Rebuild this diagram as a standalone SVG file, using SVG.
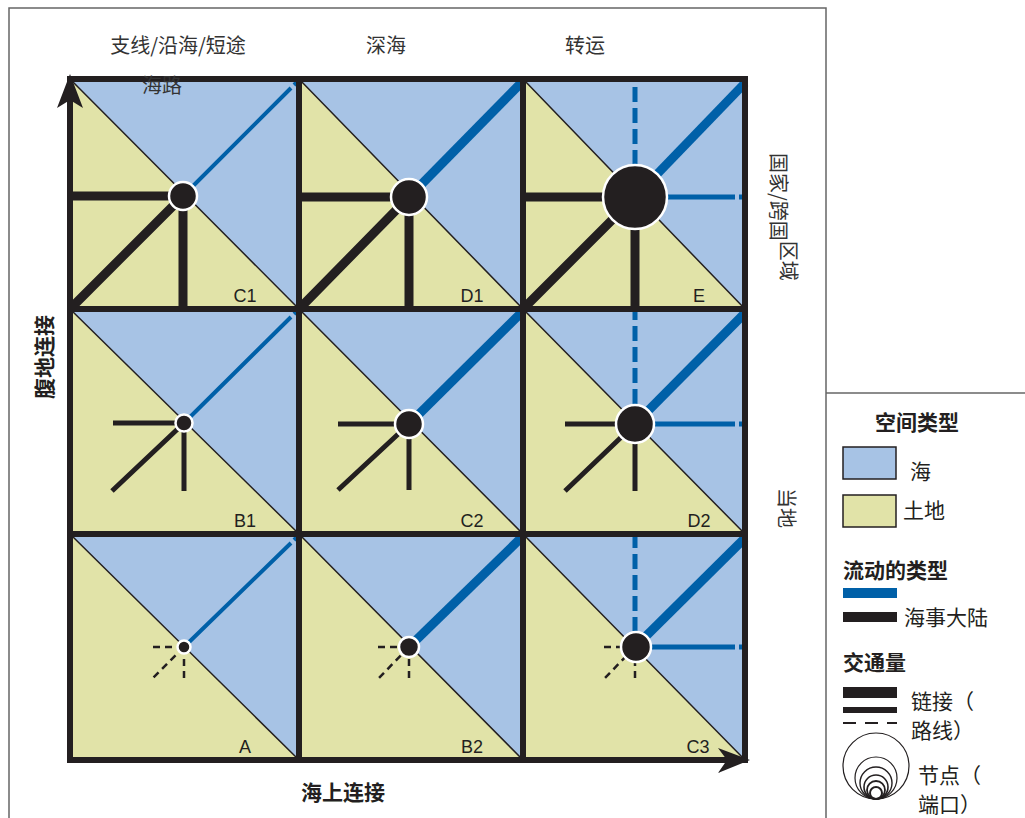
<svg xmlns="http://www.w3.org/2000/svg" width="1025" height="818" viewBox="0 0 1025 818">
<style>
.sea{fill:#a7c3e5}
.land{fill:#e1e3a8}
.diag{stroke:#231f20;stroke-width:1.5;fill:none}
.grid{stroke:#231f20;stroke-width:6;fill:none;stroke-linecap:square}
.bk9{stroke:#231f20;stroke-width:9;fill:none}
.bk5{stroke:#231f20;stroke-width:5;fill:none}
.bkd{stroke:#231f20;stroke-width:2.5;fill:none;stroke-dasharray:7,5}
.bl4{stroke:#0060a8;stroke-width:4;fill:none}
.bl9{stroke:#0060a8;stroke-width:9;fill:none}
.bl5{stroke:#0060a8;stroke-width:5;fill:none}
.bld{stroke:#0060a8;stroke-width:5;fill:none;stroke-dasharray:15,6}
.node{fill:#231f20;stroke:#fff;stroke-width:2.5}
.lbl{font-family:"Liberation Sans",Arial,sans-serif;font-size:18px;fill:#231f20}
.t{font-family:"Noto Sans CJK SC","Noto Sans",sans-serif;font-size:20px;fill:#333}
.tl{font-family:"Noto Sans CJK SC","Noto Sans",sans-serif;font-size:21px;fill:#231f20}
.tb{font-family:"Noto Sans CJK SC","Noto Sans",sans-serif;font-size:21px;font-weight:bold;fill:#231f20}
.frame{stroke:#666;stroke-width:1.5;fill:none}
</style>
<rect width="1025" height="818" fill="#fff"/>
<g id="frame">
<path class="frame" d="M826,818 V8 H9 V818"/>
<path class="frame" d="M826,393 H1025"/>
</g>
<g id="cells">
<polygon class="sea" points="70,79 299,79 299,309"/><polygon class="land" points="70,79 70,309 299,309"/>
<polygon class="sea" points="299,79 523,79 523,309"/><polygon class="land" points="299,79 299,309 523,309"/>
<polygon class="sea" points="523,79 745,79 745,309"/><polygon class="land" points="523,79 523,309 745,309"/>
<polygon class="sea" points="70,309 299,309 299,534"/><polygon class="land" points="70,309 70,534 299,534"/>
<polygon class="sea" points="299,309 523,309 523,534"/><polygon class="land" points="299,309 299,534 523,534"/>
<polygon class="sea" points="523,309 745,309 745,534"/><polygon class="land" points="523,309 523,534 745,534"/>
<polygon class="sea" points="70,534 299,534 299,760"/><polygon class="land" points="70,534 70,760 299,760"/>
<polygon class="sea" points="299,534 523,534 523,760"/><polygon class="land" points="299,534 299,760 523,760"/>
<polygon class="sea" points="523,534 745,534 745,760"/><polygon class="land" points="523,534 523,760 745,760"/>
<path class="diag" d="M70,79 L299,309 M299,79 L523,309 M523,79 L745,309 M70,309 L299,534 M299,309 L523,534 M523,309 L745,534 M70,534 L299,760 M299,534 L523,760 M523,534 L745,760"/>
</g>
<g id="connectors">
<path class="bk9" d="M70,196 H183 M183,196 V309 M183,196 L72,307"/>
<path class="bl4" d="M183,196 L291,88 M294,85 L298,81"/>
<path class="bk9" d="M299,197 H409 M409,197 V309 M409,197 L301,307"/>
<path class="bl9" d="M409,197 L523,81"/>
<path class="bk9" d="M523,197 H635 M635,197 V309 M635,197 L525,307"/>
<path class="bl9" d="M635,197 L745,83"/>
<path class="bld" d="M635,165 V82"/>
<path class="bl5" d="M667,197 H735 M739,197 H745"/>
<path class="bk5" d="M113,423 H184 M184,423 V491 M184,423 L112,491"/>
<path class="bl4" d="M184,423 L291,317 M294,314 L298,310"/>
<path class="bk5" d="M338,424 H409 M409,424 V490 M409,424 L338,490"/>
<path class="bl9" d="M409,424 L523,311"/>
<path class="bk5" d="M565,424 H635 M635,424 V491 M635,424 L565,491"/>
<path class="bl9" d="M635,424 L745,313"/>
<path class="bld" d="M635,404 V310"/>
<path class="bl5" d="M655,424 H735 M739,424 H745"/>
<path class="bkd" d="M184,647 H152 M184,647 V679 M184,647 L152,679"/>
<path class="bl4" d="M184,647 L291,543 M294,540 L298,536"/>
<path class="bkd" d="M409,647 H378 M409,647 V679 M409,647 L378,679"/>
<path class="bl9" d="M409,647 L523,536"/>
<path class="bkd" d="M635,647 H604 M635,647 V679 M635,647 L604,679"/>
<path class="bl9" d="M635,647 L745,538"/>
<path class="bld" d="M635,632 V535"/>
<path class="bl5" d="M651,647 H735 M739,647 H745"/>
</g>
<g id="grid">
<rect class="grid" x="70" y="79" width="675" height="681"/>
<path class="grid" d="M299,79 V760 M523,79 V760 M70,309 H745 M70,534 H745"/>
<polygon fill="#231f20" points="70,74 83,108 70,100 57,108"/>
<polygon fill="#231f20" points="750,760 718,773 727,760 718,748"/>
</g>
<g id="nodes">
<g id="node-C1"><circle class="node" cx="183" cy="196" r="14"/><text class="lbl" x="245" y="302" text-anchor="middle">C1</text></g>
<g id="node-D1"><circle class="node" cx="409" cy="197" r="18"/><text class="lbl" x="472" y="302" text-anchor="middle">D1</text></g>
<g id="node-E"><circle class="node" cx="635" cy="197" r="32"/><text class="lbl" x="699" y="302" text-anchor="middle">E</text></g>
<g id="node-B1"><circle class="node" cx="184" cy="423" r="8.5"/><text class="lbl" x="245" y="527" text-anchor="middle">B1</text></g>
<g id="node-C2"><circle class="node" cx="409" cy="424" r="14"/><text class="lbl" x="472" y="527" text-anchor="middle">C2</text></g>
<g id="node-D2"><circle class="node" cx="635" cy="424" r="19"/><text class="lbl" x="699" y="527" text-anchor="middle">D2</text></g>
<g id="node-A"><circle class="node" cx="184" cy="647" r="6.5"/><text class="lbl" x="245" y="753" text-anchor="middle">A</text></g>
<g id="node-B2"><circle class="node" cx="409" cy="647" r="10"/><text class="lbl" x="472" y="753" text-anchor="middle">B2</text></g>
<g id="node-C3"><circle class="node" cx="636" cy="647" r="15"/><text class="lbl" x="698" y="753" text-anchor="middle">C3</text></g>
</g>
<g id="axis-labels">
<text class="t" x="178" y="53" text-anchor="middle">支线/沿海/短途</text>
<text class="t" x="162" y="93" text-anchor="middle">海路</text>
<text class="t" x="386" y="53" text-anchor="middle">深海</text>
<text class="t" x="585" y="53" text-anchor="middle">转运</text>
<text class="tb" transform="translate(52,357) rotate(-90)" text-anchor="middle">腹地连接</text>
<text class="tb" x="343" y="800" text-anchor="middle">海上连接</text>
<text class="t" transform="translate(771,153) rotate(90)">国家/跨国<tspan dy="-10">区域</tspan></text>
<text class="t" transform="translate(779,488) rotate(90)">当地</text>
</g>
<g id="legend">
<text class="tb" x="917" y="430" text-anchor="middle">空间类型</text>
<rect x="843" y="447" width="53" height="32" fill="#a7c3e5" stroke="#231f20" stroke-width="1.5"/>
<text class="tl" x="910" y="479">海</text>
<rect x="843" y="495" width="53" height="32" fill="#e1e3a8" stroke="#231f20" stroke-width="1.5"/>
<text class="tl" x="903" y="518">土地</text>
<text class="tb" x="843" y="578">流动的类型</text>
<rect x="843" y="588" width="54" height="10" fill="#0060a8"/>
<rect x="843" y="612" width="54" height="10" fill="#231f20"/>
<text class="tl" x="904" y="625">海事大陆</text>
<text class="tb" x="843" y="670">交通量</text>
<rect x="843" y="687" width="54" height="11" fill="#231f20"/>
<rect x="843" y="707" width="54" height="6" fill="#231f20"/>
<path d="M843,723 H897" stroke="#231f20" stroke-width="2" stroke-dasharray="13,9"/>
<text class="tl" x="911" y="709">链接（</text>
<text class="tl" x="911" y="738">路线）</text>
<g fill="none" stroke="#231f20">
<circle cx="876" cy="766" r="33" stroke-width="1.2"/>
<circle cx="876" cy="778" r="21" stroke-width="1.2"/>
<circle cx="876" cy="783" r="16" stroke-width="1.4"/>
<circle cx="876" cy="787" r="12" stroke-width="1.6"/>
<circle cx="876" cy="790" r="9" stroke-width="1.8"/>
<circle cx="876" cy="793" r="6" stroke-width="2"/>
</g>
<text class="tl" x="918" y="783" font-size="20">节点（</text>
<text class="tl" x="918" y="812" font-size="20">端口）</text>
</g>
</svg>
